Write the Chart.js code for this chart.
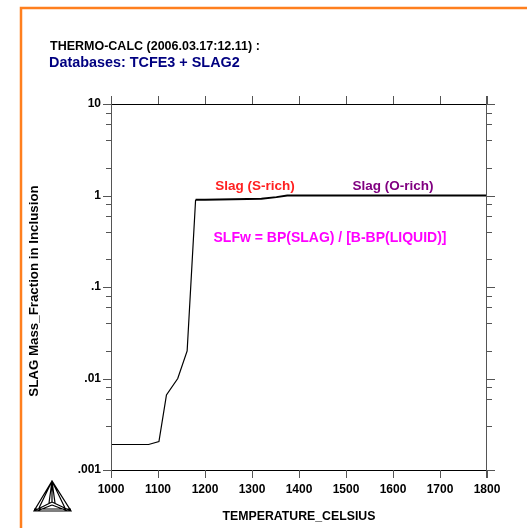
<!DOCTYPE html>
<html>
<head>
<meta charset="utf-8">
<style>
  body { margin: 0; padding: 0; background: #ffffff; }
  #wrap { width: 527px; height: 528px; }
</style>
</head>
<body>
<div id="wrap"><canvas id="slagChart" width="527" height="528"></canvas></div>

<script src="https://cdn.jsdelivr.net/npm/chart.js"></script>
<script>
// values
const temperatures = [1000, 1080, 1102, 1118, 1142, 1162, 1180, 1200, 1230, 1320, 1352, 1375, 1800];
const slagFraction = [0.0019, 0.0019, 0.00205, 0.0066, 0.0100, 0.0200, 0.90, 0.90, 0.905, 0.92, 0.96, 1.0, 1.0];
const yTickLabels = { 0.001: '.001', 0.01: '.01', 0.1: '.1', 1: '1', 10: '10' };
const xTicks = [1000, 1100, 1200, 1300, 1400, 1500, 1600, 1700, 1800];

const FONT = '"Liberation Sans", Arial, sans-serif';

function isDecade(v) {
  const l = Math.log10(v);
  return Math.abs(l - Math.round(l)) < 1e-6;
}

// draws frame, ticks, labels and captions in the Thermo-Calc style
const thermoCalcPlugin = {
  id: 'thermoCalc',
  afterDraw(chart) {
    const ctx = chart.ctx;
    const area = chart.chartArea;
    const xs = chart.scales.x;
    const ys = chart.scales.y;
    ctx.save();

    // orange page frame
    ctx.strokeStyle = '#ff7f1e';
    ctx.lineWidth = 2.5;
    ctx.beginPath();
    ctx.moveTo(21, 540);
    ctx.lineTo(21, 8);
    ctx.lineTo(540, 8);
    ctx.stroke();

    // plot box
    ctx.strokeStyle = '#000';
    ctx.lineWidth = 1;
    ctx.beginPath();
    ctx.moveTo(area.left, area.top + 0.5);
    ctx.lineTo(area.right + 8, area.top + 0.5);
    ctx.moveTo(area.left - 8, area.bottom + 0.5);
    ctx.lineTo(area.right + 8, area.bottom + 0.5);
    ctx.stroke();
    ctx.strokeStyle = '#555';
    ctx.beginPath();
    ctx.moveTo(Math.round(area.left) + 0.5, area.top - 8);
    ctx.lineTo(Math.round(area.left) + 0.5, area.bottom + 8);
    ctx.moveTo(Math.round(area.right) - 0.5, area.top - 8);
    ctx.lineTo(Math.round(area.right) - 0.5, area.bottom + 8);
    ctx.stroke();

    // x ticks top and bottom
    ctx.strokeStyle = '#555';
    ctx.beginPath();
    xs.ticks.forEach(t => {
      const px = Math.round(xs.getPixelForValue(t.value)) + 0.5;
      ctx.moveTo(px, area.top - 8);
      ctx.lineTo(px, area.top);
      ctx.moveTo(px, area.bottom);
      ctx.lineTo(px, area.bottom + 8);
    });
    ctx.stroke();

    // y ticks left and right (log minors shorter)
    ctx.beginPath();
    ys.ticks.forEach(t => {
      if (t.value < ys.min || t.value > ys.max) return;
      const py = Math.round(ys.getPixelForValue(t.value)) + 0.5;
      const len = isDecade(t.value) ? 8 : 5;
      ctx.moveTo(area.left - len, py);
      ctx.lineTo(area.left, py);
      ctx.moveTo(area.right, py);
      ctx.lineTo(area.right + len, py);
    });
    ctx.stroke();

    // tick labels
    ctx.fillStyle = '#000';
    ctx.font = 'bold 12px ' + FONT;
    ctx.textAlign = 'center';
    ctx.textBaseline = 'middle';
    xs.ticks.forEach(t => {
      ctx.fillText(String(t.value), xs.getPixelForValue(t.value), area.bottom + 20);
    });
    ctx.textAlign = 'right';
    ys.ticks.forEach(t => {
      if (!isDecade(t.value)) return;
      const key = Number(t.value.toPrecision(3));
      const label = yTickLabels[key];
      if (label) ctx.fillText(label, area.left - 10, ys.getPixelForValue(t.value));
    });

    // axis titles
    ctx.textAlign = 'center';
    ctx.font = 'bold 12.3px ' + FONT;
    ctx.fillText('TEMPERATURE_CELSIUS', (area.left + area.right) / 2, 517);
    ctx.save();
    ctx.translate(34, 291);
    ctx.rotate(-Math.PI / 2);
    ctx.font = 'bold 13.3px ' + FONT;
    ctx.fillText('SLAG Mass_Fraction in Inclusion', 0, 0);
    ctx.restore();

    // header
    ctx.textAlign = 'left';
    ctx.textBaseline = 'alphabetic';
    ctx.font = 'bold 12.5px ' + FONT;
    ctx.fillText('THERMO-CALC (2006.03.17:12.11) :', 50, 50);
    ctx.fillStyle = '#000080';
    ctx.font = 'bold 14.4px ' + FONT;
    ctx.fillText('Databases: TCFE3 + SLAG2', 49, 67);

    // phase labels
    ctx.textAlign = 'center';
    ctx.textBaseline = 'middle';
    ctx.font = 'bold 13.5px ' + FONT;
    ctx.fillStyle = '#ff2020';
    ctx.fillText('Slag (S-rich)', 255, 186);
    ctx.fillStyle = '#800080';
    ctx.fillText('Slag (O-rich)', 393, 186);
    ctx.font = 'bold 14px ' + FONT;
    ctx.fillStyle = '#ff00ff';
    ctx.fillText('SLFw = BP(SLAG) / [B-BP(LIQUID)]', 330, 238);

    // logo
    ctx.strokeStyle = '#000';
    ctx.lineWidth = 1.2;
    const A = [52, 481], B = [34, 511], C = [71, 511], P = [52, 502];
    ctx.beginPath();
    ctx.moveTo(A[0], A[1]); ctx.lineTo(B[0], B[1]); ctx.lineTo(C[0], C[1]); ctx.closePath();
    ctx.moveTo(B[0], B[1] - 2); ctx.lineTo(C[0], C[1] - 2);
    ctx.moveTo(A[0], A[1]); ctx.lineTo(P[0], P[1]);
    ctx.moveTo(A[0], A[1]); ctx.lineTo(P[0] - 3, P[1] + 1);
    ctx.moveTo(A[0], A[1]); ctx.lineTo(P[0] + 3, P[1] + 1);
    ctx.moveTo(A[0], A[1]); ctx.lineTo(39, 508);
    ctx.moveTo(A[0], A[1]); ctx.lineTo(65, 508);
    ctx.moveTo(B[0], B[1]); ctx.lineTo(P[0], P[1]);
    ctx.moveTo(B[0] + 3, B[1]); ctx.lineTo(P[0], P[1] + 3);
    ctx.moveTo(C[0], C[1]); ctx.lineTo(P[0], P[1]);
    ctx.moveTo(C[0] - 3, C[1]); ctx.lineTo(P[0], P[1] + 3);
    ctx.stroke();

    ctx.restore();
  }
};

const ctx = document.getElementById('slagChart').getContext('2d');
new Chart(ctx, {
  type: 'line',
  data: {
    datasets: [{
      data: temperatures.map((t, i) => ({ x: t, y: slagFraction[i] })),
      borderColor: '#000',
      borderWidth: 1.2,
      pointRadius: 0,
      tension: 0,
      fill: false,
      segment: {
        borderWidth: s => (s.p0.parsed.y > 0.5 && s.p1.parsed.y > 0.5 ? 2 : 1.2)
      }
    }]
  },
  options: {
    responsive: false,
    animation: false,
    devicePixelRatio: 1,
    layout: { padding: { left: 111, right: 40, top: 104, bottom: 58 } },
    plugins: { legend: { display: false }, tooltip: { enabled: false }, title: { display: false } },
    scales: {
      x: {
        type: 'linear',
        display: false,
        min: xTicks[0],
        max: xTicks[xTicks.length - 1],
        ticks: { stepSize: 100 }
      },
      y: {
        type: 'logarithmic',
        display: false,
        min: 0.001,
        max: 10
      }
    }
  },
  plugins: [thermoCalcPlugin]
});
</script>
</body>
</html>
